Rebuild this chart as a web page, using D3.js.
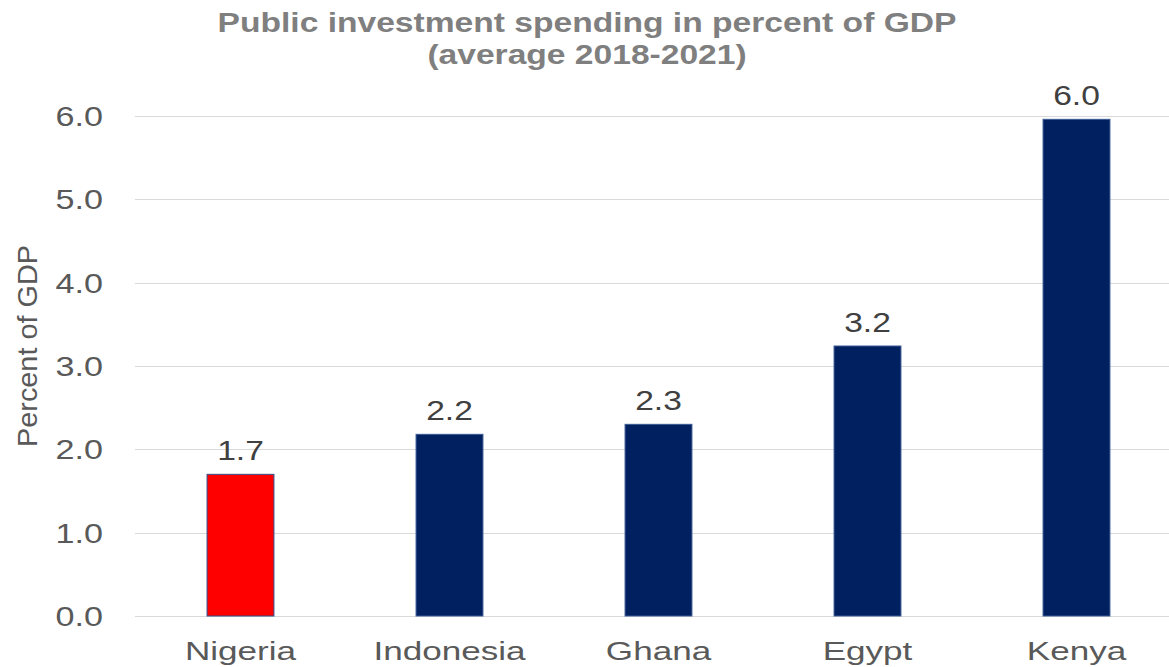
<!DOCTYPE html>
<html>
<head>
<meta charset="utf-8">
<script src="https://cdn.jsdelivr.net/npm/d3@7"></script>
<style>
  html, body { margin: 0; padding: 0; background: #fff; }
  svg { display: block; font-family: "Liberation Sans", Arial, sans-serif; }
</style>
</head>
<body>
<svg id="chart" width="1169" height="667"></svg>
<script>
// Public investment spending, average 2018-2021, percent of GDP
const countries = ["Nigeria", "Indonesia", "Ghana", "Egypt", "Kenya"];
const values = [1.70, 2.18, 2.30, 3.24, 5.96];
const highlight = ["Nigeria"];
const yTicks = [0, 1, 2, 3, 4, 5, 6];
const titleLines = ["Public investment spending in percent of GDP", "(average 2018-2021)"];
const yTitle = "Percent of GDP";

const svg = d3.select("#chart");
const W = 1169, H = 667;

const x = d3.scaleBand()
  .domain(countries)
  .range([136, 1181])
  .paddingInner(0.68)
  .paddingOuter(0.34);

const y = d3.scaleLinear()
  .domain([0, 6])
  .range([616, 116]);

// text with a horizontal stretch around its anchor point
function stretchedText(parent, tx, ty, str, opts) {
  const g = parent.append("g")
    .attr("transform", `translate(${tx},${ty})${opts.rotate ? ` rotate(${opts.rotate})` : ""} scale(${opts.sx || 1},1)`);
  g.append("text")
    .attr("text-anchor", opts.anchor || "middle")
    .attr("dy", opts.dy || 0)
    .attr("font-size", opts.size)
    .attr("font-weight", opts.weight || "normal")
    .attr("fill", opts.color)
    .text(str);
  return g;
}

// gridlines
const grid = svg.append("g").attr("class", "grid");
grid.selectAll("line")
  .data(yTicks)
  .join("line")
  .attr("x1", 135)
  .attr("x2", W)
  .attr("y1", d => Math.round(y(d)) + 0.5)
  .attr("y2", d => Math.round(y(d)) + 0.5)
  .attr("stroke", "#d9d9d9")
  .attr("stroke-width", 1);

// y tick labels via axis
const yAxis = svg.append("g")
  .attr("transform", "translate(103,0)")
  .call(d3.axisLeft(y).tickValues(yTicks).tickFormat(d3.format(".1f")).tickSize(0).tickPadding(0));
yAxis.select(".domain").remove();
yAxis.selectAll(".tick text").remove();
yAxis.selectAll(".tick").each(function(d) {
  stretchedText(d3.select(this), 0, 0, d3.format(".1f")(d), {
    anchor: "end", size: 28, sx: 1.22, color: "#595959", dy: "0.34em"
  });
});

// bars
svg.append("g").selectAll("rect")
  .data(countries)
  .join("rect")
  .attr("x", d => x(d))
  .attr("width", x.bandwidth())
  .attr("y", (d, i) => y(values[i]))
  .attr("height", (d, i) => y(0) - y(values[i]))
  .attr("fill", d => highlight.includes(d) ? "#ff0000" : "#002060")
  .attr("stroke", d => highlight.includes(d) ? "#2f4f8f" : "#3a5a95")
  .attr("stroke-width", 1);

// value labels
const vLabels = svg.append("g");
countries.forEach((c, i) => {
  stretchedText(vLabels, x(c) + x.bandwidth() / 2, y(values[i]) - 14, d3.format(".1f")(values[i]), {
    size: 28, sx: 1.2, color: "#404040"
  });
});

// category labels
const xAxis = svg.append("g")
  .attr("transform", `translate(0,${y(0)})`)
  .call(d3.axisBottom(x).tickSize(0).tickPadding(0));
xAxis.select(".domain").remove();
xAxis.selectAll(".tick text").remove();
xAxis.selectAll(".tick").each(function(d) {
  stretchedText(d3.select(this), 0, 44, d, {
    size: 26, sx: 1.35, color: "#595959"
  });
});

// title
titleLines.forEach((t, i) => {
  stretchedText(svg, 587, 32 + i * 32, t, {
    size: 28, weight: "bold", sx: 1.2, color: "#7f7f7f"
  });
});

// y axis title
stretchedText(svg, 37, 346, yTitle, {
  size: 28, sx: 1.03, color: "#595959", rotate: -90
});
</script>
</body>
</html>
